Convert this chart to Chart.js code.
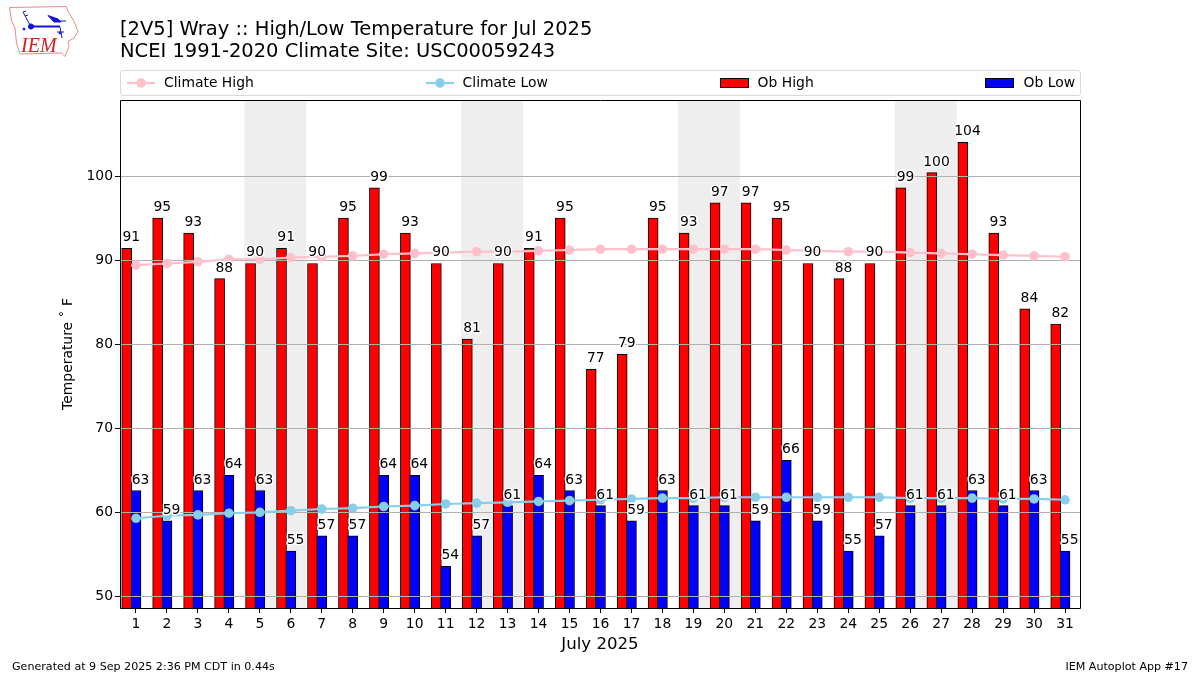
<!DOCTYPE html>
<html>
<head>
<meta charset="utf-8">
<title>Wray High/Low Temperature</title>
<script src="https://cdn.jsdelivr.net/npm/chart.js@4"></script>
<style>
    html, body { margin: 0; padding: 0; background: #fff; }
    body { width: 1200px; height: 675px; position: relative; overflow: hidden; font-family: "DejaVu Sans", sans-serif; color: #000; }
    #chart { position: absolute; left: 0; top: 0; }
    #logo { position: absolute; left: 0; top: 0; }
    #title { position: absolute; left: 120px; top: 18px; font-size: 19.48px; line-height: 22px; white-space: nowrap; }
    #legend { position: absolute; left: 120px; top: 70px; width: 961px; height: 26px; box-sizing: border-box; border: 1px solid #d9d9d9; border-radius: 3px; padding: 0 5px 3px 6px; display: flex; justify-content: space-between; align-items: center; font-size: 13.9px; }
    #legend span.item { display: flex; align-items: center; }
    #legend svg { margin-right: 9px; margin-top: 2px; }
    .foot { position: absolute; top: 660px; font-size: 11.1px; white-space: nowrap; }
</style>
</head>
<body>
<canvas id="chart" width="1200" height="675"></canvas>
<svg id="logo" width="90" height="65" viewBox="0 0 90 65">
    <path d="M9.5 7.5 L66.5 6.5 L68 11.5 L74 21.5 L78 31.5 L74 38 L68 41.5 L69 46.5 L65 56.5 L61.5 53 L20 54 L16.5 43 L15 28 L11.5 20 Z" fill="#fff" stroke="#e58a8a" stroke-width="1"/>
    <g stroke="#1414d8" fill="#1414d8">
        <line x1="31" y1="26.5" x2="60" y2="26.5" stroke-width="2"/>
        <circle cx="31" cy="26.5" r="2.6"/>
        <path d="M48 15.5 L58 19 L61 22 L54 22 Z"/>
        <line x1="57" y1="21" x2="66" y2="21" stroke-width="1"/>
        <line x1="23" y1="12" x2="30" y2="25" stroke-width="1"/>
        <line x1="23" y1="12" x2="26" y2="11" stroke-width="1"/>
        <line x1="25" y1="16" x2="28" y2="15" stroke-width="1"/>
        <line x1="60" y1="27" x2="62" y2="38" stroke-width="1"/>
        <line x1="57" y1="32" x2="64" y2="32" stroke-width="1"/>
        <circle cx="24" cy="29" r="1"/>
        <circle cx="60" cy="33" r="1"/>
    </g>
    <text x="21" y="52" font-family="Liberation Serif" font-style="italic" font-size="20" fill="#d42020">IEM</text>
</svg>
<div id="title">[2V5] Wray :: High/Low Temperature for Jul 2025<br>NCEI 1991-2020 Climate Site: USC00059243</div>
<div id="legend"></div>
<div class="foot" style="left:12px">Generated at 9 Sep 2025 2:36 PM CDT in 0.44s</div>
<div class="foot" style="right:12px">IEM Autoplot App #17</div>
<script>
// Data
const days = [1, 2, 3, 4, 5, 6, 7, 8, 9, 10, 11, 12, 13, 14, 15, 16, 17, 18, 19, 20, 21, 22, 23, 24, 25, 26, 27, 28, 29, 30, 31];
const obHigh = [91.4, 95, 93.2, 87.8, 89.6, 91.4, 89.6, 95, 98.6, 93.2, 89.6, 80.6, 89.6, 91.4, 95, 77, 78.8, 95, 93.2, 96.8, 96.8, 95, 89.6, 87.8, 89.6, 98.6, 100.4, 104, 93.2, 84.2, 82.4];
const obLow = [62.6, 59, 62.6, 64.4, 62.6, 55.4, 57.2, 57.2, 64.4, 64.4, 53.6, 57.2, 60.8, 64.4, 62.6, 60.8, 59, 62.6, 60.8, 60.8, 59, 66.2, 59, 55.4, 57.2, 60.8, 60.8, 62.6, 60.8, 62.6, 55.4];
const climateHigh = [89.4, 89.6, 89.8, 90.1, 90.1, 90.3, 90.4, 90.5, 90.7, 90.8, 90.9, 91, 91, 91.1, 91.2, 91.3, 91.3, 91.3, 91.3, 91.3, 91.3, 91.2, 91.1, 91, 91, 90.9, 90.8, 90.7, 90.6, 90.5, 90.4];
const climateLow = [59.3, 59.6, 59.7, 59.9, 60, 60.2, 60.4, 60.5, 60.7, 60.8, 61, 61.1, 61.2, 61.3, 61.4, 61.5, 61.6, 61.7, 61.7, 61.8, 61.8, 61.8, 61.8, 61.8, 61.8, 61.7, 61.7, 61.7, 61.6, 61.6, 61.5];
const weekendStarts = [5, 12, 19, 26];
const yTicks = [50, 60, 70, 80, 90, 100];

const FONT = '"DejaVu Sans", sans-serif';
const GRID_COLOR = '#b0b0b0';

// Weekend bands go under everything
const weekendPlugin = {
    id: 'weekends',
    beforeDatasetsDraw(chart) {
        const { ctx, chartArea, scales } = chart;
        ctx.save();
        ctx.fillStyle = '#eeeeee';
        weekendStarts.forEach(d => {
            const x0 = scales.x.getPixelForValue(d - 0.5);
            const x1 = scales.x.getPixelForValue(d + 1.5);
            ctx.fillRect(x0, chartArea.top, x1 - x0, chartArea.bottom - chartArea.top);
        });
        ctx.restore();
    }
};

// Grid sits above the bars but below the climate lines
const gridPlugin = {
    id: 'midGrid',
    afterDatasetDraw(chart, args) {
        if (chart.data.datasets[args.index].label !== 'Ob Low') return;
        const { ctx, chartArea, scales } = chart;
        ctx.save();
        ctx.strokeStyle = GRID_COLOR;
        ctx.lineWidth = 1;
        yTicks.forEach(v => {
            const y = Math.round(scales.y.getPixelForValue(v)) + 0.5;
            ctx.beginPath();
            ctx.moveTo(chartArea.left, y);
            ctx.lineTo(chartArea.right, y);
            ctx.stroke();
        });
        ctx.restore();
    }
};

// Rounded value above each bar, with a white halo, plus the axes frame
const labelPlugin = {
    id: 'valueLabels',
    afterDatasetsDraw(chart) {
        const { ctx, chartArea, scales } = chart;
        ctx.save();
        ctx.font = '13.9px ' + FONT;
        ctx.textAlign = 'center';
        ctx.textBaseline = 'alphabetic';
        ctx.lineJoin = 'round';
        const drawSet = (values, offset) => {
            values.forEach((v, i) => {
                const x = scales.x.getPixelForValue(days[i] + offset);
                const y = scales.y.getPixelForValue(v) - 7;
                const text = String(Math.round(v));
                ctx.strokeStyle = '#fff';
                ctx.lineWidth = 3;
                ctx.strokeText(text, x, y);
                ctx.fillStyle = '#000';
                ctx.fillText(text, x, y);
            });
        };
        drawSet(obHigh, -0.15);
        drawSet(obLow, 0.15);
        ctx.strokeStyle = '#000';
        ctx.lineWidth = 1;
        ctx.strokeRect(chartArea.left + 0.5, chartArea.top + 0.5, chartArea.right - chartArea.left, chartArea.bottom - chartArea.top);
        ctx.restore();
    }
};

const chart = new Chart(document.getElementById('chart'), {
    type: 'bar',
    data: {
        datasets: [
            {
                type: 'line',
                label: 'Climate High',
                data: days.map((d, i) => ({ x: d, y: climateHigh[i] })),
                borderColor: 'pink',
                backgroundColor: 'pink',
                borderWidth: 2.2,
                pointRadius: 4.8,
                pointBorderWidth: 0,
                order: 2
            },
            {
                type: 'line',
                label: 'Climate Low',
                data: days.map((d, i) => ({ x: d, y: climateLow[i] })),
                borderColor: 'skyblue',
                backgroundColor: 'skyblue',
                borderWidth: 2.2,
                pointRadius: 4.8,
                pointBorderWidth: 0,
                order: 1
            },
            {
                label: 'Ob High',
                data: days.map((d, i) => ({ x: d - 0.3, y: obHigh[i] })),
                backgroundColor: '#ff0000',
                borderColor: '#000',
                borderWidth: 1,
                borderSkipped: false,
                grouped: false,
                barThickness: 10,
                order: 4
            },
            {
                label: 'Ob Low',
                data: days.map((d, i) => ({ x: d, y: obLow[i] })),
                backgroundColor: '#0000ff',
                borderColor: '#000',
                borderWidth: 1,
                borderSkipped: false,
                grouped: false,
                barThickness: 10,
                order: 3
            }
        ]
    },
    options: {
        responsive: false,
        animation: false,
        devicePixelRatio: 1,
        layout: { padding: { top: 100, right: 120, left: 0, bottom: 0 } },
        plugins: { legend: { display: false }, title: { display: false }, tooltip: { enabled: false } },
        scales: {
            x: {
                type: 'linear',
                min: 0.484,
                max: 31.484,
                offset: false,
                afterFit(scale) { scale.height = 67; },
                afterBuildTicks(scale) { scale.ticks = days.map(d => ({ value: d })); },
                grid: { display: true, offset: false, drawOnChartArea: false, drawTicks: true, tickLength: 5, tickColor: '#000', tickWidth: 1 },
                border: { display: false },
                ticks: { color: '#000', font: { family: FONT, size: 13.9 }, padding: 3, maxRotation: 0, autoSkip: false, callback: v => String(v) },
                title: { display: true, text: 'July 2025', color: '#000', font: { family: FONT, size: 16.6 }, padding: { top: 0, bottom: 20.5 } }
            },
            y: {
                min: 48.63,
                max: 109.04,
                afterFit(scale) { scale.width = 120; },
                afterBuildTicks(scale) { scale.ticks = yTicks.map(v => ({ value: v })); },
                grid: { display: true, drawOnChartArea: false, drawTicks: true, tickLength: 5, tickColor: '#000', tickWidth: 1 },
                border: { display: false },
                ticks: { color: '#000', font: { family: FONT, size: 13.9 }, padding: 2, callback: v => String(v) },
                title: { display: true, text: 'Temperature ˚ F', color: '#000', font: { family: FONT, size: 13.9 }, padding: { top: 60, bottom: 0 } }
            }
        }
    },
    plugins: [weekendPlugin, gridPlugin, labelPlugin]
});

// Legend spread across the top of the axes, built from the datasets
function buildLegend() {
    const box = document.getElementById('legend');
    chart.data.datasets.forEach(ds => {
        const item = document.createElement('span');
        item.className = 'item';
        const icon = ds.type === 'line'
            ? `<svg width="28" height="12"><line x1="0" y1="6" x2="28" y2="6" stroke="${ds.borderColor}" stroke-width="2.2"/><circle cx="14" cy="6" r="4.8" fill="${ds.borderColor}"/></svg>`
            : `<svg width="29" height="12"><rect x="0.5" y="1.5" width="28" height="9" fill="${ds.backgroundColor}" stroke="#000"/></svg>`;
        item.innerHTML = icon + '<span>' + ds.label + '</span>';
        box.appendChild(item);
    });
}
buildLegend();
</script>
</body>
</html>
